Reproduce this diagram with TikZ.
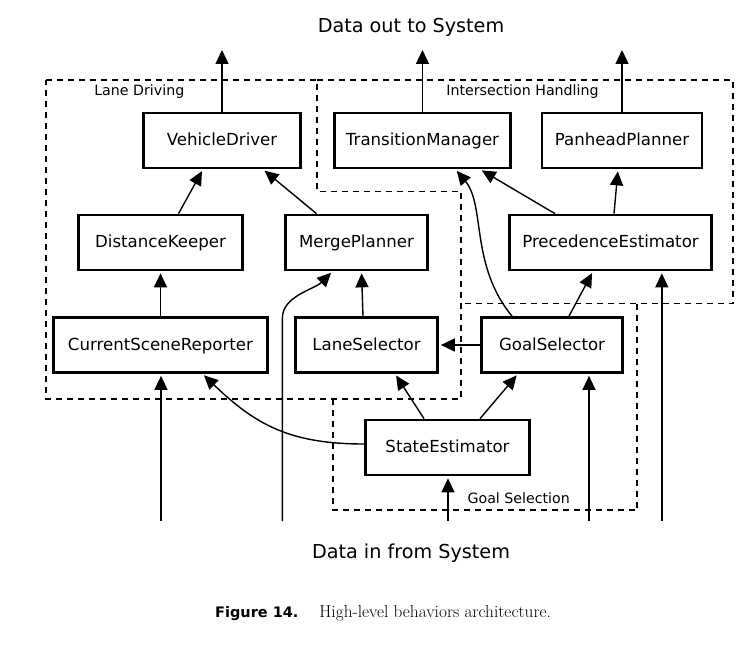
\documentclass[tikz,border=0pt]{standalone}
\usepackage{fontspec}
\newfontfamily\dejavu{DejaVu Sans}
\usetikzlibrary{arrows.meta}

\begin{document}
\begin{tikzpicture}[x=1pt,y=-1pt,
    blk/.style={draw=black, fill=white, line width=2.7pt, minimum height=55pt, inner sep=0pt,
        text height=12.6pt, text depth=2pt, font=\dejavu\fontsize{16.6}{20}\selectfont},
    arr/.style={draw=black, line width=1.4pt, shorten >=2pt, -{Triangle[length=14pt,width=13pt]}},
    grp/.style={draw=black, line width=1.3pt, dash pattern=on 6pt off 5pt},
    grplbl/.style={anchor=base, inner sep=0pt, font=\dejavu\fontsize{14.2}{17}\selectfont},
    iolbl/.style={anchor=base, inner sep=0pt, font=\dejavu\fontsize{19.2}{23}\selectfont}]
    \useasboundingbox (0,0) rectangle (755,647);

    \draw[grp] (46,80) -- (317,80) -- (317,191.5) -- (461,191.5) -- (461,399) -- (46,399) -- cycle;
    \draw[grp] (317,80) -- (733,80) -- (733,303.5) -- (461,303.5);
    \draw[grp] (637,303.5) -- (637,510) -- (333,510) -- (333,399);

    \node[grplbl] (ldl) at (139.3,96) {Lane Driving};
    \node[grplbl] (ihl) at (522.5,96) {Intersection Handling};
    \node[grplbl] (gsl) at (518.7,503) {Goal Selection};

    \node[blk, minimum width=157pt] (vd) at (222,140.5) {VehicleDriver};
    \node[blk, minimum width=176pt] (tm) at (422.5,140.5) {TransitionManager};
    \node[blk, minimum width=160pt] (pp) at (622,140.5) {PanheadPlanner};
    \node[blk, minimum width=164pt] (dk) at (160.5,242.5) {DistanceKeeper};
    \node[blk, minimum width=142pt] (mp) at (356.5,242.5) {MergePlanner};
    \node[blk, minimum width=202pt] (pe) at (610.5,242.5) {PrecedenceEstimator};
    \node[blk, minimum width=214pt] (csr) at (160.5,345) {CurrentSceneReporter};
    \node[blk, minimum width=142pt] (ls) at (366.5,345) {LaneSelector};
    \node[blk, minimum width=141pt] (gs) at (552,345) {GoalSelector};
    \node[blk, minimum width=164pt] (se) at (447.5,447.5) {StateEstimator};

    \node[iolbl] (dout) at (411,32.7) {Data out to System};
    \node[iolbl] (din) at (411,558.9) {Data in from System};

    \coordinate (o1) at (222,48);
    \coordinate (o2) at (422.5,48);
    \coordinate (o3) at (622,48);
    \coordinate (i1) at (161,521);
    \coordinate (i2) at (282.4,521);
    \coordinate (i3) at (448,521);
    \coordinate (i4) at (589,521);
    \coordinate (i5) at (661.8,521);

    \draw[arr] (vd) -- (o1);
    \draw[arr] (tm) -- (o2);
    \draw[arr] (pp) -- (o3);

    \draw[arr] ([xshift=18pt]dk.north) -- ([xshift=-19pt]vd.south);
    \draw[arr] ([xshift=-40pt]mp.north) -- ([xshift=41pt]vd.south);
    \draw[arr] ([xshift=-55.5pt]pe.north) -- ([xshift=57.5pt]tm.south);
    \draw[arr] ([xshift=3.5pt]pe.north) -- ([xshift=-4pt]pp.south);
    \draw[arr] ([xshift=-40pt]gs.north) .. controls +(-42,-51) and +(30,36) .. ([xshift=33pt]tm.south);
    \draw[arr] (csr) -- (dk);
    \draw[arr] ([xshift=-3.5pt]ls.north) -- ([xshift=5pt]mp.south);
    \draw[arr] ([xshift=17pt]gs.north) -- ([xshift=-17.5pt]pe.south);
    \draw[arr] (gs) -- (ls);
    \draw[arr] ([xshift=-23.5pt]se.north) -- ([xshift=28.5pt]ls.south);
    \draw[arr] ([xshift=32.5pt]se.north) -- ([xshift=-34pt]gs.south);
    \draw[arr] ([yshift=3.5pt]se.west) .. controls +(-74,0) and +(53,51) .. ([xshift=42pt]csr.south);

    \draw[arr] (i1) -- (i1 |- csr.south);
    \draw[arr] (i2) -- ++(0,-203) .. controls +(0,-22) and +(-18,18) .. ([xshift=-24pt]mp.south);
    \draw[arr] (i3) -- (i3 |- se.south);
    \draw[arr] (i4) -- (i4 |- gs.south);
    \draw[arr] (i5) -- (i5 |- pe.south);

    \node[anchor=base west, inner sep=0pt] (cap) at (215,617.3) {{\dejavu\bfseries\fontsize{14.5}{17}\selectfont Figure 14.}\hspace{21pt}{\fontsize{17.3}{20}\selectfont High-level behaviors architecture.}};
\end{tikzpicture}
\end{document}
